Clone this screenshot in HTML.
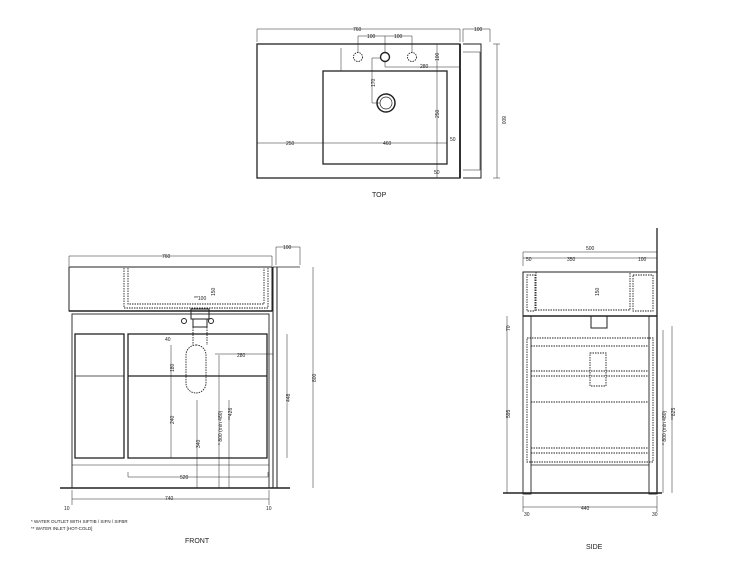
<!DOCTYPE html>
<html><head><style>
html,body{margin:0;padding:0;background:#fff;}
svg{display:block;}
text{font-family:"Liberation Sans",sans-serif;fill:#222;}
.d{font-size:5px;}
</style></head><body>
<svg width="750" height="563" viewBox="0 0 750 563" xmlns="http://www.w3.org/2000/svg">
<g stroke="#222" fill="none" stroke-width="0.9">
<!-- TOP VIEW -->
<rect x="257" y="44" width="203" height="134" stroke-width="1.3"/>
<rect x="323" y="71" width="124" height="93" stroke-width="1.3"/>
<polyline points="463,44 481,44 481,178 463,178" stroke-width="1"/>
<polyline points="463,52 480,52 480,170 463,170" stroke-width="0.6"/>
<line x1="460" y1="44" x2="460" y2="178" stroke-width="1.8"/>
<line x1="257" y1="29" x2="460" y2="29" stroke-width="0.5"/>
<line x1="257" y1="29" x2="257" y2="42" stroke-width="0.5"/>
<line x1="460" y1="29" x2="460" y2="42" stroke-width="0.5"/>
<line x1="463" y1="29" x2="490" y2="29" stroke-width="0.5"/>
<line x1="463" y1="29" x2="463" y2="42" stroke-width="0.5"/>
<line x1="490" y1="29" x2="490" y2="42" stroke-width="0.5"/>
<line x1="497" y1="44" x2="497" y2="178" stroke-width="0.5"/>
<line x1="493" y1="44" x2="500" y2="44" stroke-width="0.5"/>
<line x1="493" y1="178" x2="500" y2="178" stroke-width="0.5"/>
<circle cx="358" cy="57" r="4.5" stroke-dasharray="1.5,1"/>
<circle cx="385" cy="57" r="4.5" stroke-width="1.4"/>
<circle cx="412" cy="57" r="4.5" stroke-dasharray="1.5,1"/>
<polyline points="358,53 358,36 412,36 412,53" stroke-width="0.5"/>
<line x1="385" y1="36" x2="385" y2="53" stroke-width="0.5"/>
<circle cx="386" cy="103" r="9" stroke-width="1.5"/>
<circle cx="386" cy="103" r="6" stroke-width="0.7"/>
<polyline points="381,58 372,58 372,103 380,103" stroke-width="0.5"/>
<polyline points="385,62 385,67 460,67" stroke-width="0.5"/>
<line x1="257" y1="143" x2="447" y2="143" stroke-width="0.5"/>
<line x1="437" y1="44" x2="437" y2="178" stroke-width="0.5"/>
<line x1="341" y1="48" x2="341" y2="71" stroke-width="0.5"/>
<!-- FRONT VIEW -->
<line x1="69" y1="256" x2="272" y2="256" stroke-width="0.5"/>
<line x1="69" y1="256" x2="69" y2="266" stroke-width="0.5"/>
<line x1="272" y1="256" x2="272" y2="266" stroke-width="0.5"/>
<polyline points="276,265 276,247 300,247 300,265" stroke-width="0.5"/>
<rect x="69" y="267" width="203" height="44" stroke-width="1"/>
<polyline points="124,268 124,308 268,308 268,268" stroke-dasharray="1.5,1"/>
<polyline points="128,268 128,304 264,304 264,268" stroke-dasharray="1.5,1"/>
<line x1="69" y1="311" x2="272" y2="311" stroke-width="1.5"/>
<rect x="72" y="314" width="197" height="174" stroke-width="0.9"/>
<rect x="75" y="334" width="49" height="124" stroke-width="1.3"/>
<line x1="75" y1="376" x2="124" y2="376" stroke-width="0.8"/>
<rect x="128" y="334" width="139" height="124" stroke-width="1.3"/>
<line x1="128" y1="376" x2="267" y2="376" stroke-width="1.3"/>
<line x1="72" y1="465" x2="269" y2="465" stroke-width="0.6"/>
<line x1="60" y1="488" x2="290" y2="488" stroke-width="1.5"/>
<line x1="273" y1="267" x2="273" y2="488" stroke-width="1"/>
<line x1="277" y1="267" x2="277" y2="488" stroke-width="1"/>
<line x1="273" y1="267" x2="300" y2="267" stroke-width="0.8"/>
<rect x="191" y="309" width="18" height="10" stroke-width="1"/>
<rect x="193" y="319" width="14" height="8" stroke-width="1"/>
<circle cx="184" cy="321" r="2.5" stroke-width="1"/>
<circle cx="211" cy="321" r="2.5" stroke-width="1"/>
<rect x="186" y="345" width="20" height="48" rx="10" stroke-dasharray="1.5,1"/>
<line x1="193" y1="327" x2="193" y2="345" stroke-dasharray="1.5,1"/>
<line x1="207" y1="327" x2="207" y2="345" stroke-dasharray="1.5,1"/>
<line x1="215" y1="354" x2="273" y2="354" stroke-width="0.5"/>
<line x1="171" y1="345" x2="171" y2="458" stroke-width="0.5"/>
<line x1="197" y1="400" x2="197" y2="488" stroke-width="0.5"/>
<line x1="219" y1="355" x2="219" y2="488" stroke-width="0.5"/>
<line x1="229" y1="400" x2="229" y2="488" stroke-width="0.5"/>
<polyline points="128,472 128,477 268,477 268,472" stroke-width="0.5"/>
<line x1="287" y1="334" x2="287" y2="458" stroke-width="0.5"/>
<line x1="313" y1="267" x2="313" y2="488" stroke-width="0.5"/>
<line x1="72" y1="499" x2="269" y2="499" stroke-width="0.5"/>
<line x1="72" y1="490" x2="72" y2="505" stroke-width="0.5"/>
<line x1="269" y1="490" x2="269" y2="505" stroke-width="0.5"/>
<!-- SIDE VIEW -->
<line x1="523" y1="252" x2="657" y2="252" stroke-width="0.5"/>
<line x1="523" y1="258" x2="657" y2="258" stroke-width="0.5"/>
<line x1="523" y1="252" x2="523" y2="266" stroke-width="0.5"/>
<rect x="523" y="272" width="134" height="44" stroke-width="1"/>
<polyline points="536,272 536,310 630,310 630,272" stroke-dasharray="1.5,1"/>
<rect x="527" y="275" width="8" height="36" stroke-dasharray="1.5,1"/>
<rect x="633" y="275" width="20" height="36" stroke-dasharray="1.5,1"/>
<line x1="523" y1="316" x2="657" y2="316" stroke-width="1.5"/>
<line x1="657" y1="228" x2="657" y2="494" stroke-width="1.3"/>
<rect x="523" y="316" width="8" height="178" stroke-width="0.9"/>
<rect x="649" y="316" width="8" height="178" stroke-width="0.9"/>
<rect x="527" y="338" width="126" height="124" stroke-dasharray="1.5,1"/>
<line x1="531" y1="346" x2="649" y2="346" stroke-dasharray="1.5,1"/>
<line x1="531" y1="371" x2="649" y2="371" stroke-dasharray="1.5,1"/>
<line x1="531" y1="376" x2="649" y2="376" stroke-dasharray="1.5,1"/>
<line x1="531" y1="402" x2="649" y2="402" stroke-dasharray="1.5,1"/>
<line x1="531" y1="448" x2="649" y2="448" stroke-dasharray="1.5,1"/>
<line x1="531" y1="453" x2="649" y2="453" stroke-dasharray="1.5,1"/>
<line x1="531" y1="465" x2="649" y2="465" stroke-width="0.8"/>
<rect x="591" y="316" width="16" height="12" stroke-width="1"/>
<rect x="590" y="353" width="16" height="33" stroke-dasharray="1.5,1"/>
<line x1="503" y1="493" x2="662" y2="493" stroke-width="1.5"/>
<line x1="507" y1="316" x2="507" y2="493" stroke-width="0.5"/>
<line x1="663" y1="330" x2="663" y2="493" stroke-width="0.5"/>
<line x1="672" y1="326" x2="672" y2="493" stroke-width="0.5"/>
<line x1="523" y1="507" x2="657" y2="507" stroke-width="0.5"/>
<line x1="523" y1="496" x2="523" y2="512" stroke-width="0.5"/>
<line x1="657" y1="496" x2="657" y2="512" stroke-width="0.5"/>
</g>
<g class="d">
<text x="353" y="31">760</text><text x="474" y="31">100</text>
<text x="367" y="38">100</text><text x="394" y="38">100</text>
<text x="420" y="68">280</text><text x="286" y="145">250</text><text x="383" y="145">460</text>
<text x="450" y="141">50</text><text x="434" y="174">50</text>
<text transform="translate(375,87) rotate(-90)">170</text>
<text transform="translate(439,118) rotate(-90)">250</text>
<text transform="translate(439,61) rotate(-90)">100</text>
<text transform="translate(502,116) rotate(90)">800</text>
<text x="372" y="197" style="font-size:7px">TOP</text>
<text x="162" y="258">760</text><text x="283" y="249">100</text>
<text x="194" y="300">**100</text><text x="165" y="341">40</text>
<text x="237" y="357">280</text><text x="165" y="500">740</text>
<text x="180" y="479">520</text>
<text transform="translate(215,296) rotate(-90)">150</text>
<text transform="translate(174,372) rotate(-90)">180</text>
<text transform="translate(174,424) rotate(-90)">240</text>
<text transform="translate(200,448) rotate(-90)">340</text>
<text transform="translate(222,445) rotate(-90)">* 800 (min 480)</text>
<text transform="translate(232,420) rotate(-90)">**426</text>
<text transform="translate(290,402) rotate(-90)">448</text>
<text transform="translate(316,382) rotate(-90)">800</text>
<text x="64" y="510">10</text><text x="266" y="510">10</text>
<text x="31" y="523" style="font-size:4.5px">*  WATER OUTLET WITH SIFTIB / SIFN / SIFBR</text>
<text x="31" y="530" style="font-size:4.5px">** WATER INLET [HOT-COLD]</text>
<text x="185" y="543" style="font-size:7px">FRONT</text>
<text x="586" y="250">500</text><text x="526" y="261">50</text><text x="567" y="261">350</text><text x="638" y="261">100</text>
<text transform="translate(599,296) rotate(-90)">150</text>
<text transform="translate(510,331) rotate(-90)">70</text>
<text transform="translate(510,418) rotate(-90)">595</text>
<text transform="translate(666,445) rotate(-90)">* 800 (min 480)</text>
<text transform="translate(675,420) rotate(-90)">**825</text>
<text x="581" y="510">440</text><text x="524" y="516">30</text><text x="652" y="516">30</text>
<text x="586" y="549" style="font-size:7px">SIDE</text>
</g>
</svg>
</body></html>
